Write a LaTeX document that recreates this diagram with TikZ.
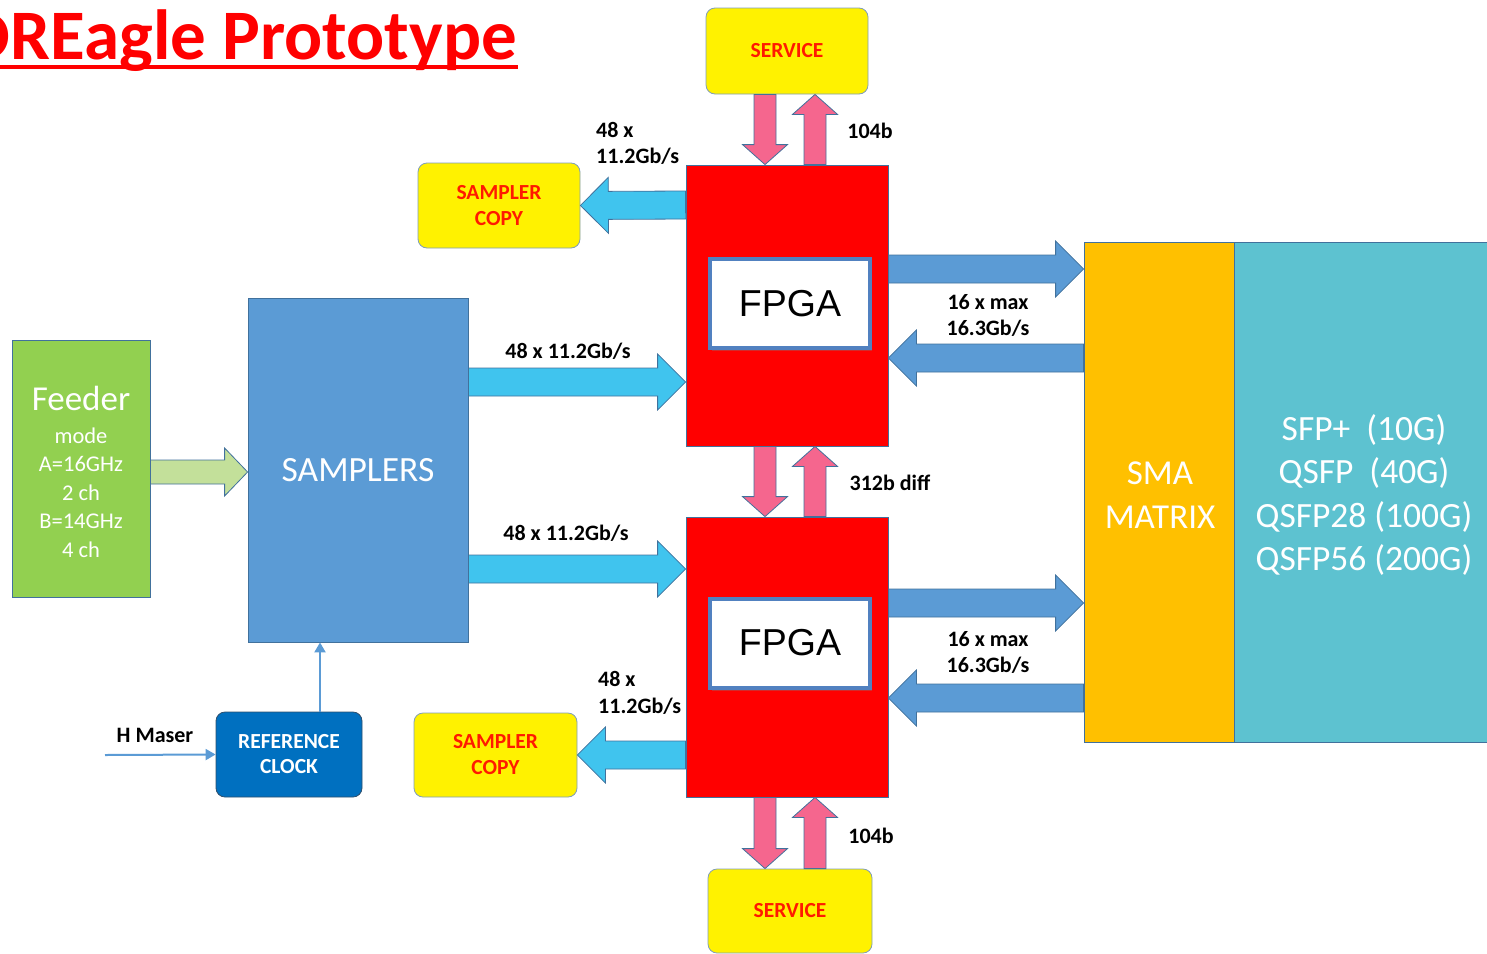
\documentclass[tikz,border=0pt]{standalone}
\usepackage{fontspec}
\setmainfont{Carlito}
\newfontfamily\arialfont{Liberation Sans}
\usetikzlibrary{calc,arrows.meta,shadows}

\definecolor{edgeblue}{HTML}{41719C}
\definecolor{feedgreen}{HTML}{92D050}
\definecolor{lightgreen}{HTML}{C3E09A}
\definecolor{sampblue}{HTML}{5B9BD5}
\definecolor{linkcyan}{HTML}{40C4EE}
\definecolor{busPink}{HTML}{F5668E}
\definecolor{smaorange}{HTML}{FFC000}
\definecolor{portteal}{HTML}{5DC2D0}
\definecolor{refblue}{HTML}{0070C0}
\definecolor{chipframe}{HTML}{5181C0}
\definecolor{yellowedge}{HTML}{7F9DB9}
\definecolor{labelred}{HTML}{FF1A00}

% Block arrow between two points:
% #1 style, #2 shaft half width, #3 head half width, #4 head length, #5 from, #6 to
\newcommand\blockarrow[6]{%
  \path[#1] let \p1=(#5), \p2=(#6),
    \n1={veclen(\x2-\x1,\y2-\y1)},
    \n2={(\x2-\x1)/(\n1)}, \n3={(\y2-\y1)/(\n1)} in
    ({\x1-(#2pt)*(\n3)},{\y1+(#2pt)*(\n2)})
    -- ({\x1+(\n1-#4pt)*(\n2)-(#2pt)*(\n3)},{\y1+(\n1-#4pt)*(\n3)+(#2pt)*(\n2)})
    -- ({\x1+(\n1-#4pt)*(\n2)-(#3pt)*(\n3)},{\y1+(\n1-#4pt)*(\n3)+(#3pt)*(\n2)})
    -- (\x2,\y2)
    -- ({\x1+(\n1-#4pt)*(\n2)+(#3pt)*(\n3)},{\y1+(\n1-#4pt)*(\n3)-(#3pt)*(\n2)})
    -- ({\x1+(\n1-#4pt)*(\n2)+(#2pt)*(\n3)},{\y1+(\n1-#4pt)*(\n3)-(#2pt)*(\n2)})
    -- ({\x1+(#2pt)*(\n3)},{\y1-(#2pt)*(\n2)})
    -- cycle;}

\tikzset{
  blk/.style={draw=edgeblue, line width=0.8pt, inner sep=0pt, align=center},
  rblk/.style={blk, rounded corners=9pt},
  lbl/.style={inner sep=0pt, align=center, text=black,
    font=\fontsize{22}{26}\selectfont\bfseries},
  redtxt/.style={text=labelred, font=\fontsize{21.5}{26}\selectfont\bfseries},
  chip/.style={draw=chipframe, line width=4pt, fill=white, inner sep=0pt,
    minimum width=160pt, minimum height=89pt,
    font=\arialfont\fontsize{37.5}{37.5}\selectfont,
    drop shadow={opacity=0.35, shadow xshift=2pt, shadow yshift=-3pt}},
  cyanarrow/.style={fill=linkcyan, draw=edgeblue, line width=0.8pt, line join=miter},
  pinkarrow/.style={fill=busPink, draw=edgeblue, line width=0.8pt, line join=miter},
  steelarrow/.style={fill=sampblue, draw=edgeblue, line width=0.8pt, line join=miter},
  greenarrow/.style={fill=lightgreen, draw=edgeblue, line width=0.8pt, line join=miter},
  thin/.style={draw=sampblue, line width=2pt,
    -{Triangle[length=10pt,width=11pt]}},
}

\begin{document}
\begin{tikzpicture}[x=1pt,y=-1pt]
\useasboundingbox (0,0) rectangle (1487,953);
\clip (0,0) rectangle (1487,953);

% title
\node[anchor=base east, inner sep=0pt, text=red,
  font=\fontsize{71}{71}\selectfont\bfseries] (title) at (517,59) {DREagle Prototype};
\draw[red, line width=4.5pt] (0,67) -- (518,67);

% main blocks
\node[blk, fill=feedgreen, minimum width=138pt, minimum height=257pt, text=white,
  font=\fontsize{22.5}{28.5}\selectfont] (feeder) at (81,468.5) {};
\node[inner sep=0pt, align=center, text=white,
  font=\fontsize{22.5}{28.5}\selectfont] (feedtxt) at (81,472)
  {{\fontsize{35}{38}\selectfont Feeder}\\[4pt] mode\\A=16GHz\\2 ch\\B=14GHz\\4 ch};
\node[blk, fill=sampblue, minimum width=220pt, minimum height=344pt, text=white,
  font=\fontsize{35.5}{36}\selectfont, text depth=0pt] (samp) at (358,470) {SAMPLERS};
\node[blk, fill=red, minimum width=202pt, minimum height=281pt] (fpA) at (787,305.5) {};
\node[blk, fill=red, minimum width=202pt, minimum height=280pt] (fpB) at (787,657) {};
\node[chip] (chipA) at (790,303.5) {FPGA};
\node[chip] (chipB) at (790,643) {FPGA};

\node[rblk, draw=yellowedge, fill=yellow, minimum width=162pt, minimum height=86pt,
  redtxt] (svA) at (787,51) {SERVICE};
\node[rblk, draw=yellowedge, fill=yellow, minimum width=164pt, minimum height=84pt,
  redtxt] (svB) at (790,911) {SERVICE};
\node[rblk, draw=yellowedge, fill=yellow, minimum width=162pt, minimum height=85pt,
  redtxt] (scA) at (499,205.5) {SAMPLER\\COPY};
\node[rblk, draw=yellowedge, fill=yellow, minimum width=163pt, minimum height=84pt,
  redtxt] (scB) at (495.5,755) {SAMPLER\\COPY};

\node[blk, fill=smaorange, minimum width=150pt, minimum height=500pt] (sma) at (1159,492) {};
\node[inner sep=0pt, align=center, text=white,
  font=\fontsize{35}{44}\selectfont] (smatxt) at (1160,495) {SMA\\MATRIX};
\node[blk, fill=portteal, minimum width=256pt, minimum height=500pt] (ports) at (1362,492) {};
\node[inner sep=0pt, align=center, text=white,
  font=\fontsize{35.5}{43.5}\selectfont] (portlist) at (1364,495)
  {SFP+\ \ (10G)\\QSFP\ \ (40G)\\QSFP28 (100G)\\QSFP56 (200G)};

\node[rblk, draw=edgeblue!70!black, fill=refblue, minimum width=146pt, minimum height=85pt,
  text=white, font=\fontsize{21.5}{25}\selectfont\bfseries] (ref) at (289,754.5)
  {REFERENCE\\CLOCK};
\coordinate (maser) at (105,755);

% feeder to samplers
\blockarrow{greenarrow}{12}{24}{23}{[yshift=-3.5pt]feeder.east}{[yshift=-2pt]samp.west}

% samplers to the FPGAs
\blockarrow{cyanarrow}{14}{28}{28}{[yshift=88pt]samp.east}{[yshift=-76.5pt]fpA.west}
\blockarrow{cyanarrow}{14}{28}{28}{[yshift=-99pt]samp.east}{[yshift=88pt]fpB.west}

% FPGAs to the sampler copies
\blockarrow{cyanarrow}{14}{28}{28}{[yshift=100.5pt]fpA.west}{scA.east}
\blockarrow{cyanarrow}{14}{28}{28}{[yshift=-98pt]fpB.west}{scB.east}

% service buses
\blockarrow{pinkarrow}{11}{22.5}{20}{[xshift=-22pt]svA.south}{[xshift=-22pt]fpA.north}
\blockarrow{pinkarrow}{11}{22.5}{20}{[xshift=28pt]fpA.north}{[xshift=28pt]svA.south}
\blockarrow{pinkarrow}{11}{22.5}{20}{[xshift=-22pt]fpA.south}{[xshift=-22pt]fpB.north}
\blockarrow{pinkarrow}{11}{22.5}{20}{[xshift=28pt]fpB.north}{[xshift=28pt]fpA.south}
\blockarrow{pinkarrow}{11}{22.5}{20}{[xshift=-22pt]fpB.south}{[xshift=-25pt]svB.north}
\blockarrow{pinkarrow}{11}{22.5}{20}{[xshift=25pt]svB.north}{[xshift=28pt]fpB.south}

% FPGA <-> SMA matrix links
\blockarrow{steelarrow}{14}{28}{28}{[yshift=36.5pt]fpA.east}{[yshift=223pt]sma.west}
\blockarrow{steelarrow}{14}{28}{28}{[yshift=134pt]sma.west}{[yshift=-52.5pt]fpA.east}
\blockarrow{steelarrow}{14}{28}{28}{[yshift=54pt]fpB.east}{[yshift=-111pt]sma.west}
\blockarrow{steelarrow}{14}{28}{28}{[yshift=-206pt]sma.west}{[yshift=-41pt]fpB.east}

% clock distribution
\draw[thin] ([xshift=31pt]ref.north) -- ([xshift=-38pt]samp.south);
\draw[thin] (maser) -- (ref.west);

% labels
\node[lbl] (l1) at (568,351) {48 x 11.2Gb/s};
\node[lbl] (l2) at (566,533) {48 x 11.2Gb/s};
\node[lbl, anchor=west, align=left] (l3) at (596,143.5) {48 x\\11.2Gb/s};
\node[lbl, anchor=west, align=left, font=\fontsize{22}{27}\selectfont\bfseries]
  (l4) at (598,692.5) {48 x\\11.2Gb/s};
\node[lbl] (l5) at (870,131) {104b};
\node[lbl] (l6) at (871,836) {104b};
\node[lbl] (l7) at (890,483) {312b diff};
\node[lbl] (l8) at (988,315) {16 x max\\16.3Gb/s};
\node[lbl] (l9) at (988,652) {16 x max\\16.3Gb/s};
\node[lbl] (l10) at (155,735) {H Maser};
\end{tikzpicture}
\end{document}
